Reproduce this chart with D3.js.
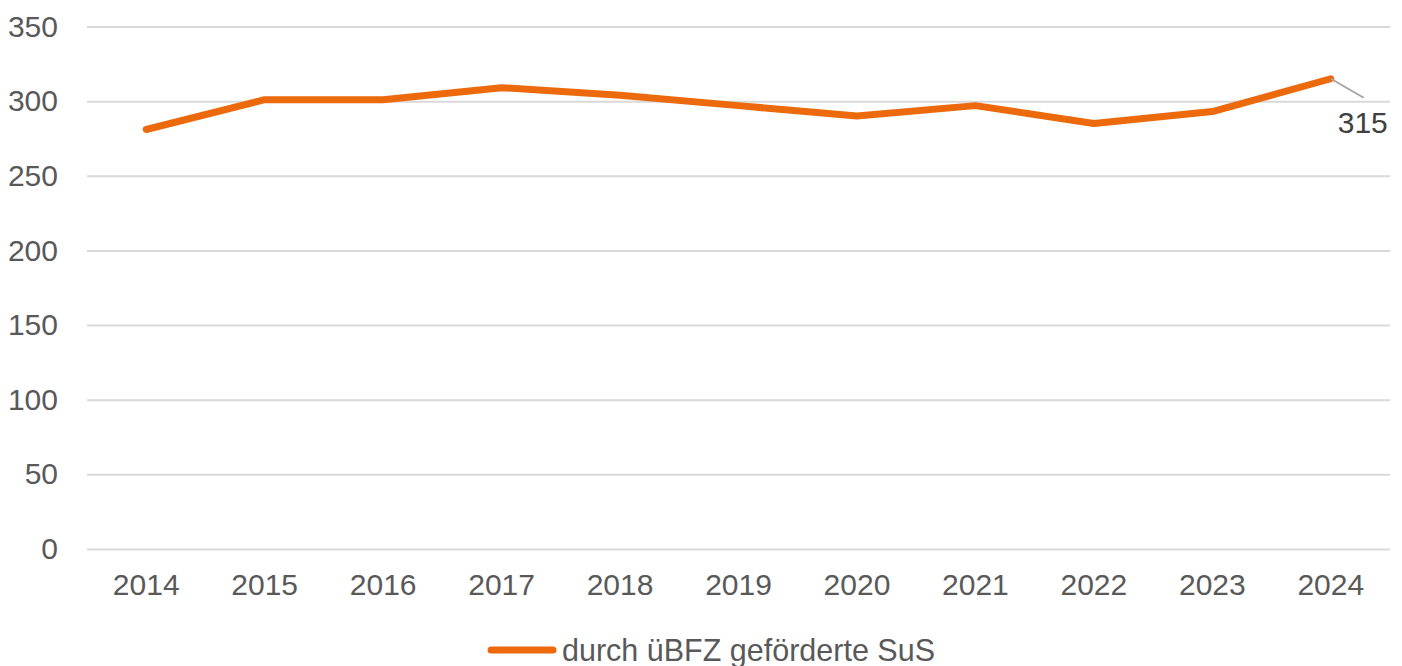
<!DOCTYPE html>
<html>
<head>
<meta charset="utf-8">
<script src="https://cdn.jsdelivr.net/npm/d3@7"></script>
<style>
  body { margin: 0; background: #fff; }
  svg { font-family: "Liberation Sans", Arial, sans-serif; }
</style>
</head>
<body>
<svg id="chart"></svg>
<script>
// chart data
const years = ['2014', '2015', '2016', '2017', '2018', '2019', '2020', '2021', '2022', '2023', '2024'];
const values = [281, 301, 301, 309, 304, 297, 290, 297, 285, 293, 315];
const yTicks = [0, 50, 100, 150, 200, 250, 300, 350];
const seriesName = 'durch üBFZ geförderte SuS';

const width = 1402, height = 666;
const margin = { top: 26.5, right: 12, bottom: 117, left: 87 };
const innerW = width - margin.left - margin.right;
const innerH = height - margin.top - margin.bottom;
const orange = '#ec6a0c';
const fontSize = 30;

const svg = d3.select('#chart')
  .attr('width', width)
  .attr('height', height);

const chart = svg.append('g')
  .attr('transform', `translate(${margin.left},${margin.top})`);

const xScale = d3.scaleBand()
  .domain(years)
  .range([0, innerW]);

const yScale = d3.scaleLinear()
  .domain([0, 350])
  .range([innerH, 0]);

// gridlines + y labels
const yAxis = d3.axisLeft(yScale)
  .tickValues(yTicks)
  .tickSize(-innerW)
  .tickPadding(29);

chart.append('g')
  .attr('class', 'y-axis')
  .call(yAxis)
  .call(g => g.select('.domain').remove())
  .call(g => g.selectAll('line').attr('stroke', '#d9d9d9').attr('stroke-width', 2))
  .call(g => g.selectAll('text')
    .attr('fill', '#595959')
    .attr('font-size', fontSize));

// x labels
const xAxis = d3.axisBottom(xScale)
  .tickSize(0)
  .tickPadding(25);

chart.append('g')
  .attr('class', 'x-axis')
  .attr('transform', `translate(0,${innerH})`)
  .call(xAxis)
  .call(g => g.select('.domain').remove())
  .call(g => g.selectAll('text')
    .attr('fill', '#595959')
    .attr('font-size', fontSize));

// the line
const line = d3.line()
  .x((d, i) => xScale(years[i]) + xScale.bandwidth() / 2)
  .y(d => yScale(d));

chart.append('path')
  .datum(values)
  .attr('fill', 'none')
  .attr('stroke', orange)
  .attr('stroke-width', 7)
  .attr('stroke-linejoin', 'round')
  .attr('stroke-linecap', 'round')
  .attr('d', line);

// data label for last point with leader line
const lastX = xScale(years[years.length - 1]) + xScale.bandwidth() / 2;
const lastY = yScale(values[values.length - 1]);

chart.append('line')
  .attr('x1', lastX)
  .attr('y1', lastY)
  .attr('x2', lastX + 33)
  .attr('y2', lastY + 19)
  .attr('stroke', '#a6a6a6')
  .attr('stroke-width', 2);

chart.append('text')
  .attr('x', lastX + 32)
  .attr('y', lastY + 54)
  .attr('text-anchor', 'middle')
  .attr('fill', '#404040')
  .attr('font-size', fontSize)
  .text(values[values.length - 1]);

// legend
const legend = svg.append('g')
  .attr('transform', 'translate(491,650)');

legend.append('line')
  .attr('x1', 0)
  .attr('x2', 62)
  .attr('y1', 0)
  .attr('y2', 0)
  .attr('stroke', orange)
  .attr('stroke-width', 7)
  .attr('stroke-linecap', 'round');

legend.append('text')
  .attr('x', 71)
  .attr('y', 11)
  .attr('fill', '#595959')
  .attr('font-size', 30.5)
  .text(seriesName);
</script>
</body>
</html>
